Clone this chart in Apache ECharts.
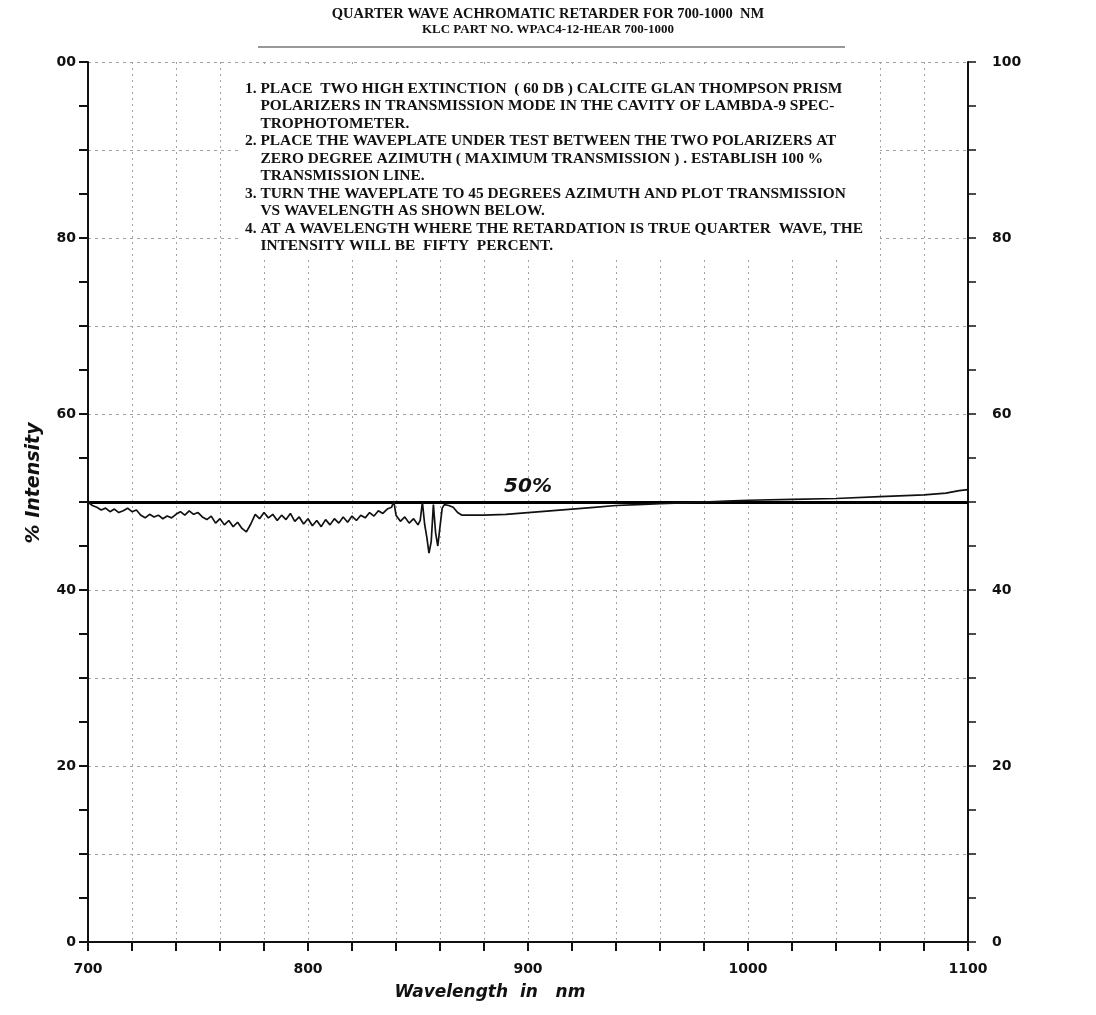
<!DOCTYPE html>
<html>
<head>
<meta charset="utf-8">
<script src="https://cdn.jsdelivr.net/npm/echarts@6/dist/echarts.min.js"></script>
<style>
html,body{margin:0;padding:0;background:#fff;}
#chart{width:1096px;height:1015px;}
</style>
</head>
<body>
<div id="chart"></div>
<script>
// ---- data ----
const wavelengths = [
  700,702,704,706,708,710,712,714,716,718,720,722,724,726,728,730,732,734,736,738,
  740,742,744,746,748,750,752,754,756,758,760,762,764,766,768,770,772,774,776,778,
  780,782,784,786,788,790,792,794,796,798,800,802,804,806,808,810,812,814,816,818,
  820,822,824,826,828,830,832,834,836,838,839,840,842,844,846,848,850,851,852,853,
  854,855,856,857,858,859,860,861,862,864,866,868,870,880,890,900,910,920,930,940,
  950,960,970,980,990,1000,1020,1040,1060,1080,1090,1096,1100
];
const intensity = [
  50.0,49.6,49.4,49.1,49.3,48.9,49.2,48.8,49.0,49.3,48.9,49.1,48.5,48.2,48.6,48.3,48.5,48.1,48.4,48.2,
  48.6,48.9,48.5,49.0,48.6,48.8,48.3,48.0,48.4,47.6,48.1,47.4,47.9,47.2,47.7,47.0,46.6,47.5,48.6,48.1,
  48.8,48.2,48.6,47.9,48.5,48.0,48.7,47.8,48.3,47.5,48.1,47.3,47.9,47.2,48.0,47.4,48.1,47.6,48.3,47.7,
  48.4,47.9,48.5,48.2,48.8,48.4,49.0,48.7,49.2,49.4,50.1,48.5,47.8,48.3,47.6,48.1,47.4,47.9,50.0,47.5,
  46.0,44.2,45.5,49.7,46.5,45.0,47.2,49.3,49.7,49.6,49.4,48.8,48.5,48.5,48.6,48.8,49.0,49.2,49.4,49.6,
  49.7,49.8,49.9,50.0,50.1,50.2,50.3,50.4,50.6,50.8,51.0,51.3,51.4
];
const referenceLevel = 50;
const referenceLabel = '50%';
const xLabelValues = [700, 800, 900, 1000, 1100];
const yLabelValues = [0, 20, 40, 60, 80, 100];
const yLeftLabels = ['0', '20', '40', '60', '80', '00'];
const yRightLabels = ['0', '20', '40', '60', '80', '100'];
const titleLine1 = 'QUARTER WAVE ACHROMATIC RETARDER FOR 700-1000  NM';
const titleLine2 = 'KLC PART NO. WPAC4-12-HEAR 700-1000';
const notes = [
  '1. PLACE  TWO HIGH EXTINCTION  ( 60 DB ) CALCITE GLAN THOMPSON PRISM',
  '    POLARIZERS IN TRANSMISSION MODE IN THE CAVITY OF LAMBDA-9 SPEC-',
  '    TROPHOTOMETER.',
  '2. PLACE THE WAVEPLATE UNDER TEST BETWEEN THE TWO POLARIZERS AT',
  '    ZERO DEGREE AZIMUTH ( MAXIMUM TRANSMISSION ) . ESTABLISH 100 %',
  '    TRANSMISSION LINE.',
  '3. TURN THE WAVEPLATE TO 45 DEGREES AZIMUTH AND PLOT TRANSMISSION',
  '    VS WAVELENGTH AS SHOWN BELOW.',
  '4. AT A WAVELENGTH WHERE THE RETARDATION IS TRUE QUARTER  WAVE, THE',
  '    INTENSITY WILL BE  FIFTY  PERCENT.'
];
const xName = 'Wavelength  in   nm';
const yName = '% Intensity';

// ---- chart ----
const chart = echarts.init(document.getElementById('chart'), null, {renderer: 'canvas'});
const tickFont = {fontFamily: 'DejaVu Sans', fontWeight: 'bold', fontSize: 14, color: '#111'};
const serifBold = 'Liberation Serif';

const option = {
  backgroundColor: '#ffffff',
  animation: false,
  grid: {left: 88, right: 128, top: 62, bottom: 73, containLabel: false},
  graphic: [
    {type: 'text', left: 'center', top: 7, z: 20, style: {text: titleLine1, font: 'bold 14.5px "' + serifBold + '"', fill: '#111'}},
    {type: 'text', left: 'center', top: 23, z: 20, style: {text: titleLine2, font: 'bold 13px "' + serifBold + '"', fill: '#111'}},
    {type: 'line', z: 20, shape: {x1: 258, y1: 47, x2: 845, y2: 47}, style: {stroke: '#333', lineWidth: 1.2}},
    {type: 'rect', z: 15, shape: {x: 238, y: 66, width: 642, height: 194}, style: {fill: '#ffffff'}},
    {type: 'text', left: 245, top: 80, z: 20, style: {text: notes.join('\n'), font: 'bold 15.4px "' + serifBold + '"', lineHeight: 17.5, fill: '#111'}}
  ],
  xAxis: [
    {
      type: 'value', min: 700, max: 1100, interval: 20,
      name: xName, nameLocation: 'middle', nameGap: 42,
      nameTextStyle: {fontFamily: 'DejaVu Sans', fontStyle: 'italic', fontWeight: 'bold', fontSize: 17, color: '#111', padding: [0, 76, 0, 0]},
      axisLine: {show: true, lineStyle: {color: '#111', width: 2}},
      axisTick: {show: true, length: 9, lineStyle: {color: '#111', width: 2}},
      axisLabel: {margin: 20, ...tickFont, formatter: v => xLabelValues.includes(v) ? String(v) : ''},
      splitLine: {show: true, lineStyle: {color: '#a0a0a0', type: [2, 4], width: 1}}
    }
  ],
  yAxis: [
    {
      type: 'value', min: 0, max: 100, interval: 5, position: 'left',
      name: yName, nameLocation: 'middle', nameGap: 44, nameRotate: 90,
      nameTextStyle: {fontFamily: 'DejaVu Sans', fontStyle: 'italic', fontWeight: 'bold', fontSize: 19, color: '#111', padding: [0, 0, 0, 38]},
      axisLine: {show: true, lineStyle: {color: '#111', width: 2}},
      axisTick: {show: true, length: 9, lineStyle: {color: '#111', width: 2}},
      axisLabel: {margin: 12, ...tickFont, formatter: v => { const i = yLabelValues.indexOf(v); return i >= 0 ? yLeftLabels[i] : ''; }},
      splitLine: {show: false}
    },
    {
      type: 'value', min: 0, max: 100, interval: 5, position: 'right',
      axisLine: {show: true, lineStyle: {color: '#111', width: 2}},
      axisTick: {show: true, length: 8, lineStyle: {color: '#111', width: 1.5}},
      axisLabel: {margin: 24, ...tickFont, formatter: v => { const i = yLabelValues.indexOf(v); return i >= 0 ? yRightLabels[i] : ''; }},
      splitLine: {show: false}
    },
    {
      type: 'value', min: 0, max: 100, interval: 10, position: 'left', show: true,
      axisLine: {show: false}, axisTick: {show: false}, axisLabel: {show: false},
      splitLine: {show: true, lineStyle: {color: '#a0a0a0', type: [3, 4], width: 1}}
    }
  ],
  series: [
    {
      type: 'line', yAxisIndex: 0, showSymbol: false, symbol: 'none',
      data: wavelengths.map((w, i) => [w, intensity[i]]),
      lineStyle: {color: '#111', width: 1.7},
      z: 5,
      markLine: {
        silent: true, symbol: 'none',
        lineStyle: {color: '#000', width: 3.2, type: 'solid'},
        label: {show: true, position: 'insideMiddleTop', formatter: referenceLabel, fontFamily: 'DejaVu Sans', fontStyle: 'italic', fontWeight: 'bold', fontSize: 20, color: '#111', distance: 5},
        data: [{yAxis: referenceLevel}]
      }
    }
  ]
};
chart.setOption(option);
</script>
</body>
</html>
